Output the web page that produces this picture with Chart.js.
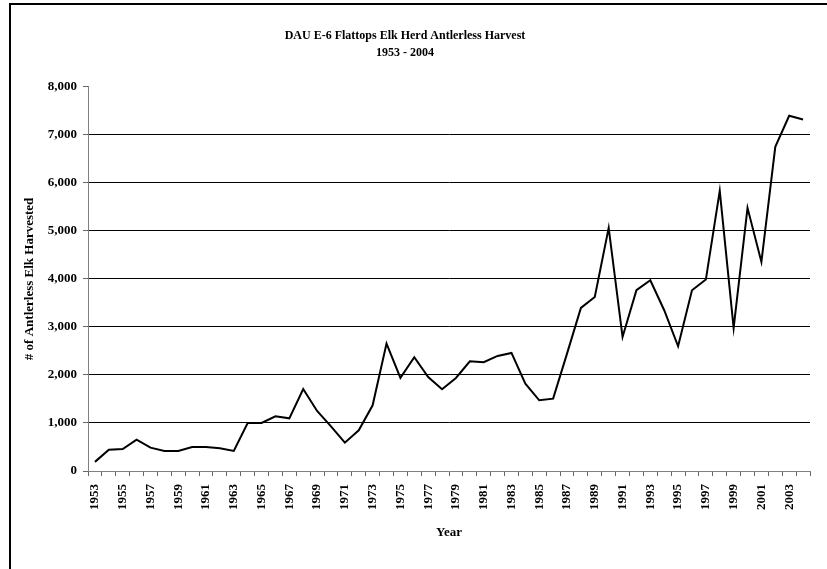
<!DOCTYPE html>
<html>
<head>
<meta charset="utf-8">
<title>DAU E-6 Flattops Elk Herd Antlerless Harvest</title>
<script src="https://cdn.jsdelivr.net/npm/chart.js@4"></script>
<style>
	body { margin: 0; overflow: hidden; background: #fff; }
	#wrap { position: relative; width: 827px; height: 569px; }
	#frame { position: absolute; left: 9px; top: 3px; width: 900px; height: 700px; border: 2px solid #000; }
	#chart { position: absolute; left: 0; top: 0; }
</style>
</head>
<body>
<div id="wrap">
	<div id="frame"></div>
	<canvas id="chart" width="827" height="569"></canvas>
</div>
<script>
var years = ["1953", "1954", "1955", "1956", "1957", "1958", "1959", "1960", "1961", "1962",
	"1963", "1964", "1965", "1966", "1967", "1968", "1969", "1970", "1971", "1972",
	"1973", "1974", "1975", "1976", "1977", "1978", "1979", "1980", "1981", "1982",
	"1983", "1984", "1985", "1986", "1987", "1988", "1989", "1990", "1991", "1992",
	"1993", "1994", "1995", "1996", "1997", "1998", "1999", "2000", "2001", "2002",
	"2003", "2004"];

// antlerless elk harvested per year
var harvest = [190, 444, 458, 653, 486, 417, 417, 500, 500, 472,
	417, 1000, 1000, 1139, 1097, 1708, 1250, 930, 590, 847,
	1368, 2653, 1938, 2368, 1958, 1701, 1938, 2285, 2264, 2396,
	2458, 1819, 1472, 1507, 2444, 3396, 3625, 5063, 2792, 3764,
	3972, 3347, 2597, 3764, 3986, 5833, 2979, 5479, 4354, 6750,
	7396, 7319];

var titleLines = ["DAU E-6 Flattops Elk Herd Antlerless Harvest", "1953 - 2004"];
var yTitle = "# of Antlerless Elk Harvested";
var xTitle = "Year";

Chart.defaults.font.family = "'Liberation Serif', 'Times New Roman', serif";
Chart.defaults.color = "#000";

var ctx = document.getElementById("chart").getContext("2d");
var chart = new Chart(ctx, {
	type: "line",
	data: {
		labels: years,
		datasets: [{
			data: harvest,
			borderColor: "#000",
			borderWidth: 2,
			pointRadius: 0,
			tension: 0,
			fill: false
		}]
	},
	options: {
		responsive: false,
		animation: false,
		layout: { padding: { left: 0, right: 17, top: 0, bottom: 0 } },
		plugins: {
			legend: { display: false },
			tooltip: { enabled: false },
			title: {
				display: true,
				text: titleLines,
				color: "#000",
				font: { size: 12, weight: "bold", lineHeight: 1.45 },
				padding: { top: 27, bottom: 25 }
			}
		},
		scales: {
			x: {
				offset: true,
				afterFit: function(s) { s.height = 98; },
				border: { color: "#808080", width: 1 },
				grid: {
					offset: true,
					drawOnChartArea: false,
					tickLength: 5,
					tickColor: "#666"
				},
				ticks: {
					autoSkip: false,
					minRotation: 90,
					maxRotation: 90,
					padding: 8,
					color: "#000",
					font: { size: 13, weight: "bold" },
					callback: function(val, i) {
						return i % 2 === 0 ? this.getLabelForValue(val) : "";
					}
				},
				title: {
					display: true,
					text: xTitle,
					color: "#000",
					font: { size: 13, weight: "bold" },
					padding: { top: 0, bottom: 29 }
				}
			},
			y: {
				min: 0,
				max: 8000,
				afterFit: function(s) { s.width = 88; },
				border: { color: "#808080", width: 1 },
				grid: {
					color: function(c) {
						var v = c.tick ? c.tick.value : 0;
						return (v === 0 || v === 8000) ? "rgba(0,0,0,0)" : "#000";
					},
					lineWidth: 1,
					tickLength: 5,
					tickColor: "#666"
				},
				ticks: {
					stepSize: 1000,
					padding: 6,
					color: "#000",
					font: { size: 13, weight: "bold" }
				},
				title: {
					display: true,
					text: yTitle,
					color: "#000",
					font: { size: 13, weight: "bold" },
					padding: { top: 22, bottom: 0 }
				}
			}
		}
	}
});
</script>
</body>
</html>
